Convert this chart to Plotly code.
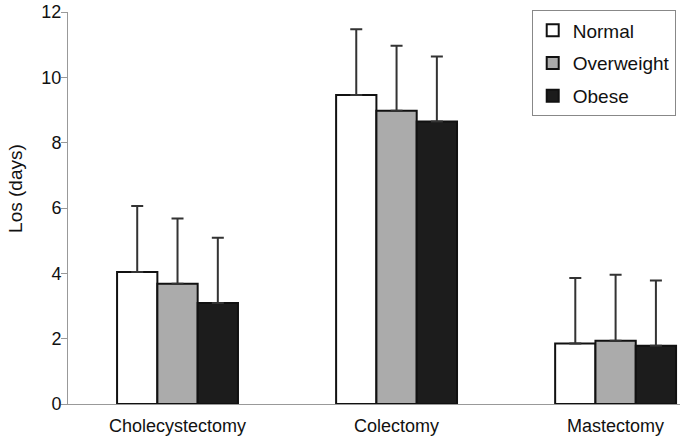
import plotly.graph_objects as go

categories = ["Cholecystectomy", "Colectomy", "Mastectomy"]
series_names = ["Normal", "Overweight", "Obese"]
normal_vals = [4.04, 9.46, 1.85]
overweight_vals = [3.68, 8.98, 1.94]
obese_vals = [3.09, 8.65, 1.78]
normal_err = [2.02, 2.01, 2.01]
overweight_err = [2.00, 1.99, 2.02]
obese_err = [2.00, 1.99, 2.00]
y_ticks = [0, 2, 4, 6, 8, 10, 12]

fills = ["#ffffff", "#ababab", "#1c1c1c"]
FONT = "Liberation Sans, Arial, sans-serif"

fig = go.Figure()
for i, (name, vals, errs) in enumerate(zip(series_names,
                                           [normal_vals, overweight_vals, obese_vals],
                                           [normal_err, overweight_err, obese_err])):
    fig.add_trace(go.Bar(
        x=categories, y=vals, name=name, legendgroup=name,
        marker=dict(color=fills[i], line=dict(color="#111111", width=2)),
        error_y=dict(type="data", array=errs, symmetric=False,
                     arrayminus=[0, 0, 0], color="#333333",
                     thickness=2, width=6),
    ))

fig.update_layout(
    width=680, height=441,
    margin=dict(l=68, r=0, t=12, b=37),
    paper_bgcolor="white", plot_bgcolor="white",
    barmode="group", bargap=0.448, bargroupgap=0,
    font=dict(family=FONT, size=19, color="#111111"),
    showlegend=True,
    legend=dict(x=0.993, xanchor="right", y=1.004, yanchor="top",
                bgcolor="white", bordercolor="#888888", borderwidth=1,
                font=dict(size=19), tracegroupgap=5),
    xaxis=dict(range=[-0.5, 2.294], showline=True, linecolor="#999999",
               linewidth=1, ticks="outside", ticklen=5, tickcolor="rgba(0,0,0,0)",
               showgrid=False, tickfont=dict(size=18), automargin=False),
    yaxis=dict(range=[0, 12], tickvals=y_ticks, showline=True,
               linecolor="#999999", linewidth=1, ticks="outside", ticklen=6,
               tickcolor="#999999", showgrid=False, zeroline=False,
               tickfont=dict(size=18), automargin=False, ticklabelstandoff=-4),
    annotations=[dict(text="Los (days)", xref="paper", yref="paper",
                      x=0, y=0.55, xanchor="right", yanchor="middle",
                      xshift=-40, textangle=-90, showarrow=False,
                      font=dict(size=19))],
)

fig.write_html("out.html", config={"displayModeBar": False},
               post_script="document.body.style.margin='0px';")
